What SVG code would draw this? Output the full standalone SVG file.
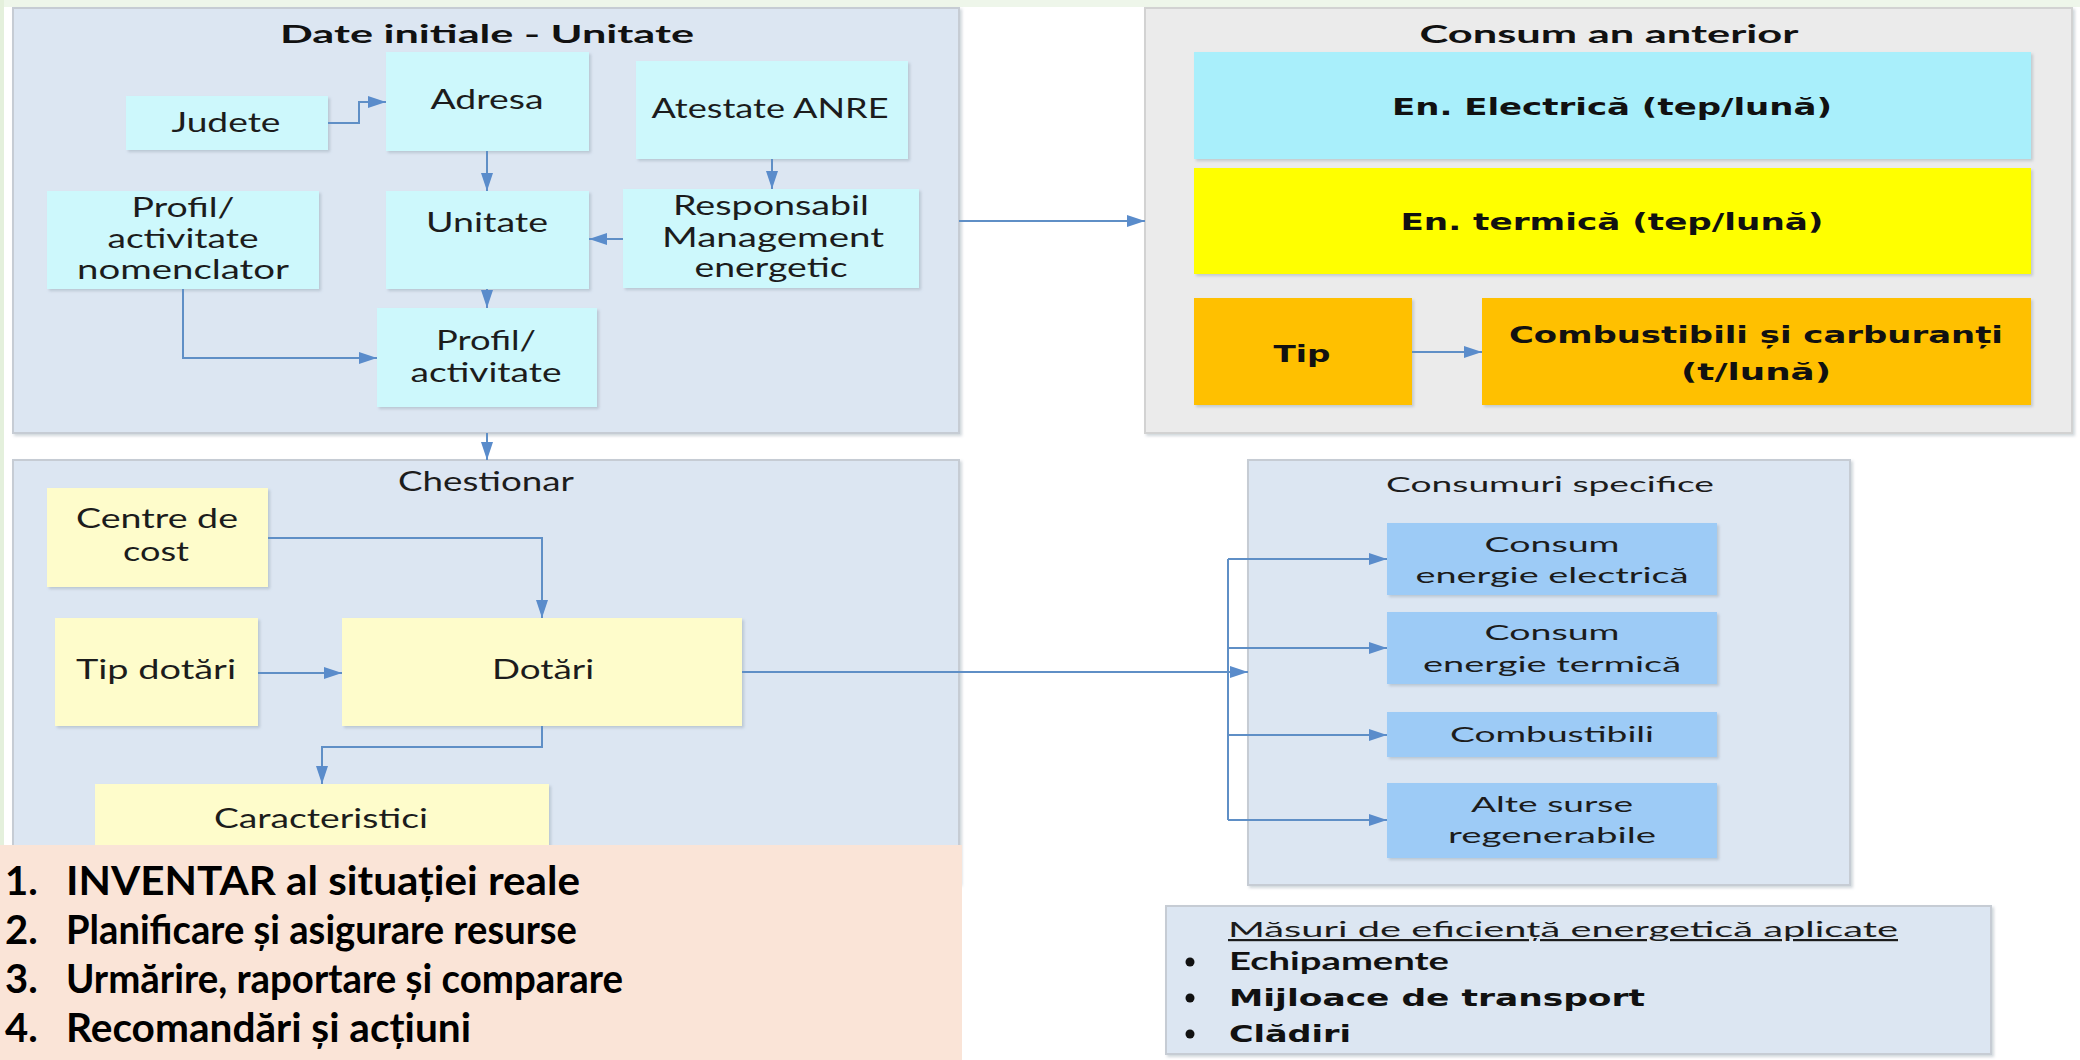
<svg xmlns="http://www.w3.org/2000/svg" width="2080" height="1060" viewBox="0 0 2080 1060">
<defs>
<style>
.panel{fill:#dce6f2;stroke:#c6ccd4;stroke-width:2}
.gray{fill:#ebebeb;stroke:#d2d2d2;stroke-width:2}
.cy{fill:#cdf8fc}
.ye{fill:#fefccb}
.bl{fill:#9dcbf6}
.t{font-family:Lato,"Open Sans",sans-serif;font-size:26px;fill:#1c1c1c;text-anchor:middle}
.tb{font-family:Lato,"Open Sans",sans-serif;font-weight:bold;font-size:24px;fill:#111;text-anchor:middle}
.vb{font-family:"DejaVu Sans",Verdana,sans-serif;font-weight:bold;font-size:23px;fill:#111;text-anchor:middle}
.sm{font-family:Lato,"Open Sans",sans-serif;font-size:22px;fill:#1c1c1c;text-anchor:middle}
.li{font-family:Lato,"Open Sans",sans-serif;font-weight:bold;font-size:40px;fill:#000}
.c{fill:none;stroke:#5f8fc6;stroke-width:2}
</style>
<marker id="a" markerUnits="userSpaceOnUse" markerWidth="18" markerHeight="12" refX="18" refY="6" orient="auto">
<path d="M0,0 L18,6 L0,12 z" fill="#5a8ccb"/>
</marker>
<filter id="sh" x="-5%" y="-5%" width="110%" height="115%">
<feDropShadow dx="2" dy="2" stdDeviation="1.5" flood-color="#7a8a99" flood-opacity="0.35"/>
</filter>
</defs>
<rect width="2080" height="1060" fill="#fff"/>
<rect width="2080" height="7" fill="#eef6ea"/>
<rect width="4" height="1060" fill="#e4f0dc"/>

<g id="panel-date">
<rect class="panel" x="13" y="8" width="946" height="425" filter="url(#sh)"/>
<text class="tb" x="487" y="43" textLength="414" lengthAdjust="spacingAndGlyphs">Date initiale - Unitate</text>
</g>
<g id="judete"><rect class="cy" x="126" y="96" width="202" height="54" filter="url(#sh)"/><text class="t" x="226" y="132" textLength="109" lengthAdjust="spacingAndGlyphs">Judete</text></g>
<g id="adresa"><rect class="cy" x="386" y="52" width="203" height="99" filter="url(#sh)"/><text class="t" x="487" y="109" textLength="113" lengthAdjust="spacingAndGlyphs">Adresa</text></g>
<g id="atestate"><rect class="cy" x="636" y="61" width="272" height="98" filter="url(#sh)"/><text class="t" x="770" y="118" textLength="237" lengthAdjust="spacingAndGlyphs">Atestate ANRE</text></g>
<g id="profil-nomenclator"><rect class="cy" x="47" y="191" width="272" height="98" filter="url(#sh)"/>
<text class="t" x="183" y="217" textLength="103" lengthAdjust="spacingAndGlyphs">Profil/</text>
<text class="t" x="183" y="248" textLength="151" lengthAdjust="spacingAndGlyphs">activitate</text>
<text class="t" x="183" y="279" textLength="212" lengthAdjust="spacingAndGlyphs">nomenclator</text></g>
<g id="unitate"><rect class="cy" x="386" y="191" width="203" height="98" filter="url(#sh)"/><text class="t" x="487" y="232" textLength="122" lengthAdjust="spacingAndGlyphs">Unitate</text></g>
<g id="responsabil"><rect class="cy" x="623" y="189" width="296" height="99" filter="url(#sh)"/>
<text class="t" x="771" y="215" textLength="196" lengthAdjust="spacingAndGlyphs">Responsabil</text>
<text class="t" x="773" y="247" textLength="222" lengthAdjust="spacingAndGlyphs">Management</text>
<text class="t" x="771" y="277" textLength="153" lengthAdjust="spacingAndGlyphs">energetic</text></g>
<g id="profil-activitate"><rect class="cy" x="377" y="308" width="220" height="99" filter="url(#sh)"/>
<text class="t" x="486" y="350" textLength="100" lengthAdjust="spacingAndGlyphs">Profil/</text>
<text class="t" x="486" y="382" textLength="151" lengthAdjust="spacingAndGlyphs">activitate</text></g>

<g id="panel-consum">
<rect class="gray" x="1145" y="8" width="927" height="425" filter="url(#sh)"/>
<text class="tb" x="1609" y="43" textLength="379" lengthAdjust="spacingAndGlyphs">Consum an anterior</text>
</g>
<g id="en-electrica"><rect x="1194" y="52" width="837" height="107" fill="#a9effb" filter="url(#sh)"/><text class="vb" x="1612" y="115" textLength="440" lengthAdjust="spacingAndGlyphs">En. Electrică (tep/lună)</text></g>
<g id="en-termica"><rect x="1194" y="168" width="837" height="106" fill="#ffff00" filter="url(#sh)"/><text class="vb" x="1612" y="230" textLength="423" lengthAdjust="spacingAndGlyphs">En. termică (tep/lună)</text></g>
<g id="tip"><rect x="1194" y="298" width="218" height="107" fill="#ffc000" filter="url(#sh)"/><text class="vb" x="1302" y="362" textLength="57" lengthAdjust="spacingAndGlyphs">Tip</text></g>
<g id="combustibili-carburanti"><rect x="1482" y="298" width="549" height="107" fill="#ffc000" filter="url(#sh)"/>
<text class="vb" x="1756" y="343" textLength="494" lengthAdjust="spacingAndGlyphs">Combustibili și carburanți</text>
<text class="vb" x="1756" y="380" textLength="150" lengthAdjust="spacingAndGlyphs">(t/lună)</text></g>

<g id="panel-chestionar">
<rect class="panel" x="13" y="460" width="946" height="423" filter="url(#sh)"/>
<text class="t" x="486" y="491" font-size="25" textLength="176" lengthAdjust="spacingAndGlyphs">Chestionar</text>
</g>
<g id="centre-cost"><rect class="ye" x="47" y="488" width="221" height="99" filter="url(#sh)"/>
<text class="t" x="157" y="528" textLength="162" lengthAdjust="spacingAndGlyphs">Centre de</text>
<text class="t" x="156" y="561" textLength="66" lengthAdjust="spacingAndGlyphs">cost</text></g>
<g id="tip-dotari"><rect class="ye" x="55" y="618" width="203" height="108" filter="url(#sh)"/><text class="t" x="156" y="679" textLength="160" lengthAdjust="spacingAndGlyphs">Tip dotări</text></g>
<g id="dotari"><rect class="ye" x="342" y="618" width="400" height="108" filter="url(#sh)"/><text class="t" x="543" y="679" textLength="102" lengthAdjust="spacingAndGlyphs">Dotări</text></g>
<g id="caracteristici"><rect class="ye" x="95" y="784" width="454" height="90" filter="url(#sh)"/><text class="t" x="321" y="828" textLength="214" lengthAdjust="spacingAndGlyphs">Caracteristici</text></g>

<g id="panel-consumuri">
<rect class="panel" x="1248" y="460" width="602" height="425" filter="url(#sh)"/>
<text class="sm" x="1550" y="492" textLength="328" lengthAdjust="spacingAndGlyphs">Consumuri specifice</text>
</g>
<g id="consum-electrica"><rect class="bl" x="1387" y="523" width="330" height="72" filter="url(#sh)"/>
<text class="sm" x="1552" y="552" textLength="135" lengthAdjust="spacingAndGlyphs">Consum</text>
<text class="sm" x="1552" y="583" textLength="273" lengthAdjust="spacingAndGlyphs">energie electrică</text></g>
<g id="consum-termica"><rect class="bl" x="1387" y="612" width="330" height="72" filter="url(#sh)"/>
<text class="sm" x="1552" y="640" textLength="135" lengthAdjust="spacingAndGlyphs">Consum</text>
<text class="sm" x="1552" y="672" textLength="258" lengthAdjust="spacingAndGlyphs">energie termică</text></g>
<g id="combustibili"><rect class="bl" x="1387" y="712" width="330" height="45" filter="url(#sh)"/>
<text class="sm" x="1552" y="742" textLength="204" lengthAdjust="spacingAndGlyphs">Combustibili</text></g>
<g id="alte-surse"><rect class="bl" x="1387" y="783" width="330" height="75" filter="url(#sh)"/>
<text class="sm" x="1552" y="812" textLength="162" lengthAdjust="spacingAndGlyphs">Alte surse</text>
<text class="sm" x="1552" y="843" textLength="208" lengthAdjust="spacingAndGlyphs">regenerabile</text></g>

<g id="masuri">
<rect class="panel" x="1166" y="906" width="825" height="148" filter="url(#sh)"/>
<text class="sm" x="1563" y="937" font-size="21" text-decoration="underline" textLength="670" lengthAdjust="spacingAndGlyphs">Măsuri de eficiență energetică aplicate</text>
<circle cx="1190" cy="962" r="4.5" fill="#111"/>
<circle cx="1190" cy="998" r="4.5" fill="#111"/>
<circle cx="1190" cy="1034" r="4.5" fill="#111"/>
<text class="tb" x="1229" y="970" font-size="20" style="text-anchor:start" textLength="220" lengthAdjust="spacingAndGlyphs">Echipamente</text>
<text class="vb" x="1229" y="1006" style="text-anchor:start" textLength="416" lengthAdjust="spacingAndGlyphs">Mijloace de transport</text>
<text class="vb" x="1229" y="1042" style="text-anchor:start" textLength="122" lengthAdjust="spacingAndGlyphs">Clădiri</text>
</g>

<g id="lista">
<rect x="0" y="845" width="962" height="215" fill="#fae4d7"/>
<text class="li" x="5" y="895">1.</text>
<text class="li" x="66" y="895" textLength="514" lengthAdjust="spacingAndGlyphs">INVENTAR al situației reale</text>
<text class="li" x="5" y="944">2.</text>
<text class="li" x="66" y="944" textLength="511" lengthAdjust="spacingAndGlyphs">Planificare și asigurare resurse</text>
<text class="li" x="5" y="993">3.</text>
<text class="li" x="66" y="993" textLength="557" lengthAdjust="spacingAndGlyphs">Urmărire, raportare și comparare</text>
<text class="li" x="5" y="1042">4.</text>
<text class="li" x="66" y="1042" textLength="405" lengthAdjust="spacingAndGlyphs">Recomandări și acțiuni</text>
</g>

<g id="connectors">
<path class="c" d="M328,123 H359 V102 H386" marker-end="url(#a)"/>
<path class="c" d="M487,151 V191" marker-end="url(#a)"/>
<path class="c" d="M772,159 V189" marker-end="url(#a)"/>
<path class="c" d="M623,239 H589" marker-end="url(#a)"/>
<path class="c" d="M487,289 V308" marker-end="url(#a)"/>
<path class="c" d="M183,289 V358 H377" marker-end="url(#a)"/>
<path class="c" d="M487,433 V460" marker-end="url(#a)"/>
<path class="c" d="M959,221 H1145" marker-end="url(#a)"/>
<path class="c" d="M1412,352 H1482" marker-end="url(#a)"/>
<path class="c" d="M268,538 H542 V618" marker-end="url(#a)"/>
<path class="c" d="M258,673 H342" marker-end="url(#a)"/>
<path class="c" d="M542,726 V747 H322 V784" marker-end="url(#a)"/>
<path class="c" d="M742,672 H1248" marker-end="url(#a)"/>
<path class="c" d="M1228,559 V820"/>
<path class="c" d="M1228,559 H1387" marker-end="url(#a)"/>
<path class="c" d="M1228,648 H1387" marker-end="url(#a)"/>
<path class="c" d="M1228,735 H1387" marker-end="url(#a)"/>
<path class="c" d="M1228,820 H1387" marker-end="url(#a)"/>
</g>
</svg>
